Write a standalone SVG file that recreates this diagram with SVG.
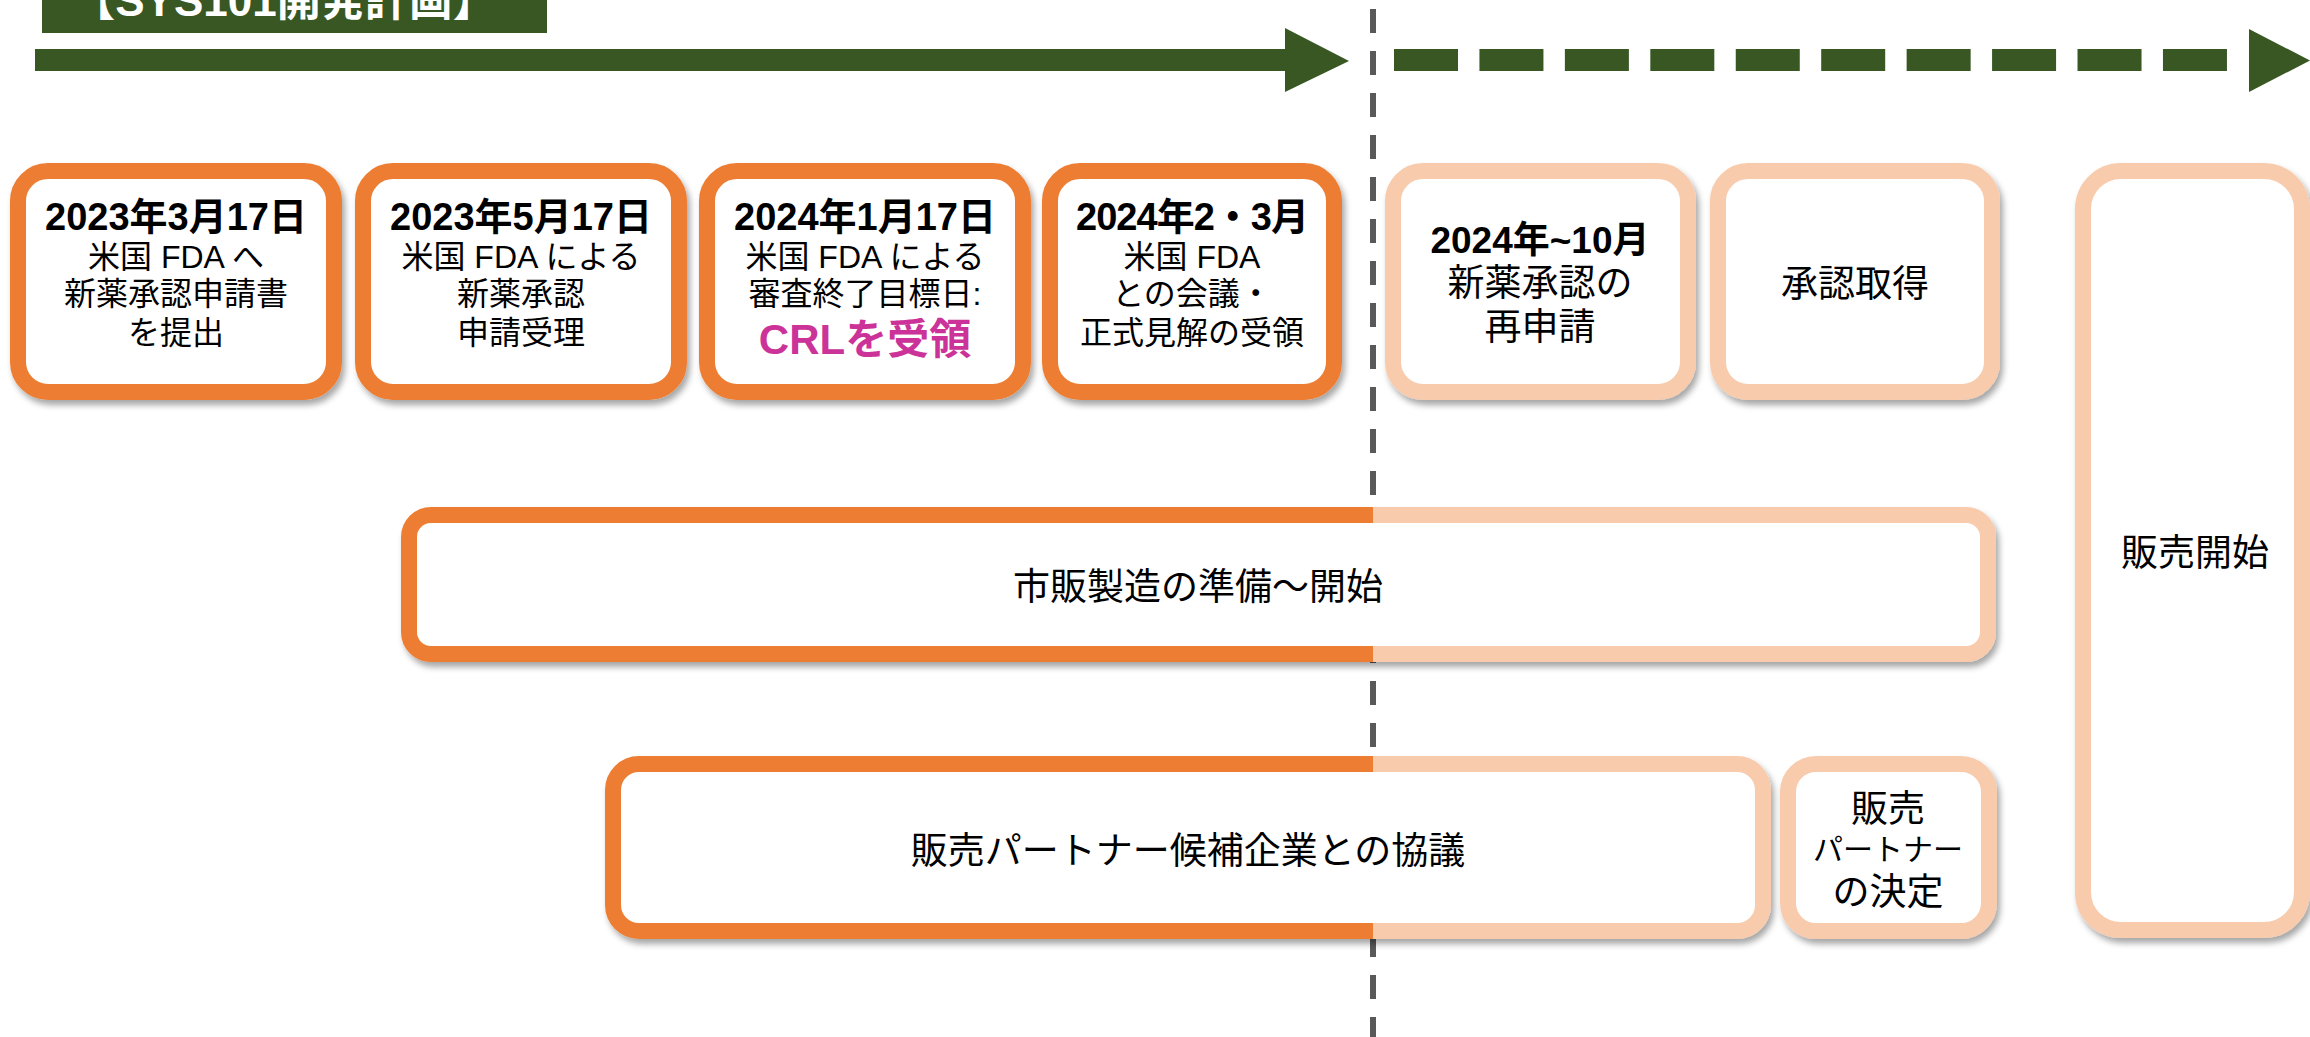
<svg xmlns="http://www.w3.org/2000/svg" width="2310" height="1037" viewBox="0 0 2310 1037">
<style>
text{font-family:"Liberation Sans","Noto Sans CJK JP",sans-serif;fill:#000;text-anchor:middle}
.b{font-weight:bold}
.h{font-weight:bold;font-size:38px}
.t32{font-size:32px}
.t37{font-size:37px}
.dk{fill:none;stroke:#ED7D31;stroke-width:16}
.lt{fill:none;stroke:#F8CBAD;stroke-width:16}
.sp{fill:none;stroke:url(#split);stroke-width:16}
.g{fill:#385723}
</style>
<defs>
<linearGradient id="split" gradientUnits="userSpaceOnUse" x1="0" y1="0" x2="2310" y2="0">
<stop offset="0.5944" stop-color="#ED7D31"/>
<stop offset="0.5944" stop-color="#F8CBAD"/>
</linearGradient>
<filter id="sh" x="-10%" y="-10%" width="120%" height="130%">
<feDropShadow dx="3" dy="5" stdDeviation="3" flood-color="#000" flood-opacity="0.35"/>
</filter>
</defs>
<rect width="2310" height="1037" fill="#fff"/>

<g id="title">
<rect class="g" x="42" y="-40" width="505" height="73"/>
<text x="284" y="16" class="b" style="font-size:44px;fill:#fff">【SYS101開発計画】</text>
</g>

<g id="connectors">
<rect class="g" x="35" y="49" width="1252" height="22"/>
<polygon class="g" points="1285,28 1349,61 1285,92"/>
<line x1="1394" y1="60" x2="2227" y2="60" stroke="#385723" stroke-width="22" stroke-dasharray="64 21.44"/>
<polygon class="g" points="2249,29 2310,60.5 2249,92"/>
<line x1="1373" y1="9" x2="1373" y2="1037" stroke="#595959" stroke-width="6" stroke-dasharray="24 18"/>
</g>

<g id="n1">
<rect class="dk" x="18" y="171" width="316" height="221" rx="30" style="fill:#fff" filter="url(#sh)"/>
<text x="176" y="230" class="h">2023年3月17日</text>
<text x="176" y="268" class="t32">米国 FDA へ</text>
<text x="176" y="305" class="t32">新薬承認申請書</text>
<text x="176" y="344" class="t32">を提出</text>
</g>
<g id="n2">
<rect class="dk" x="363" y="171" width="316" height="221" rx="30" style="fill:#fff" filter="url(#sh)"/>
<text x="521" y="230" class="h">2023年5月17日</text>
<text x="521" y="268" class="t32">米国 FDA による</text>
<text x="521" y="305" class="t32">新薬承認</text>
<text x="521" y="344" class="t32">申請受理</text>
</g>
<g id="n3">
<rect class="dk" x="707" y="171" width="316" height="221" rx="30" style="fill:#fff" filter="url(#sh)"/>
<text x="865" y="230" class="h">2024年1月17日</text>
<text x="865" y="268" class="t32">米国 FDA による</text>
<text x="865" y="305" class="t32">審査終了目標日:</text>
<text x="865" y="354" class="b" style="font-size:42px;fill:#CC3399">CRLを受領</text>
</g>
<g id="n4">
<rect class="dk" x="1050" y="171" width="284" height="221" rx="30" style="fill:#fff" filter="url(#sh)"/>
<text x="1192" y="230" class="h" letter-spacing="-1">2024年2・3月</text>
<text x="1192" y="268" class="t32">米国 FDA</text>
<text x="1192" y="305" class="t32">との会議・</text>
<text x="1192" y="344" class="t32">正式見解の受領</text>
</g>
<g id="n5">
<rect class="lt" x="1393" y="171" width="295" height="221" rx="30" style="fill:#fff" filter="url(#sh)"/>
<text x="1540" y="253" class="b t37">2024年~10月</text>
<text x="1540" y="296" class="t37">新薬承認の</text>
<text x="1540" y="340" class="t37">再申請</text>
</g>
<g id="n6">
<rect class="lt" x="1718" y="171" width="274" height="221" rx="30" style="fill:#fff" filter="url(#sh)"/>
<text x="1855" y="297" class="t37">承認取得</text>
</g>
<g id="n7">
<rect class="lt" x="2083" y="171" width="219" height="759" rx="38" style="fill:#fff" filter="url(#sh)"/>
<text x="2195" y="566" class="t37">販売開始</text>
</g>
<g id="n8">
<rect class="sp" x="409" y="515" width="1579" height="139" rx="22" style="fill:#fff" filter="url(#sh)"/>
<text x="1198" y="600" class="t37">市販製造の準備～開始</text>
</g>
<g id="n9">
<rect class="sp" x="613" y="764" width="1150" height="167" rx="26" style="fill:#fff" filter="url(#sh)"/>
<text x="1188" y="864" class="t37">販売パートナー候補企業との協議</text>
</g>
<g id="n10">
<rect class="lt" x="1788" y="764" width="201" height="167" rx="28" style="fill:#fff" filter="url(#sh)"/>
<text x="1888" y="822" class="t37">販売</text>
<text x="1888" y="860" style="font-size:30px">パートナー</text>
<text x="1888" y="905" class="t37">の決定</text>
</g>
</svg>
